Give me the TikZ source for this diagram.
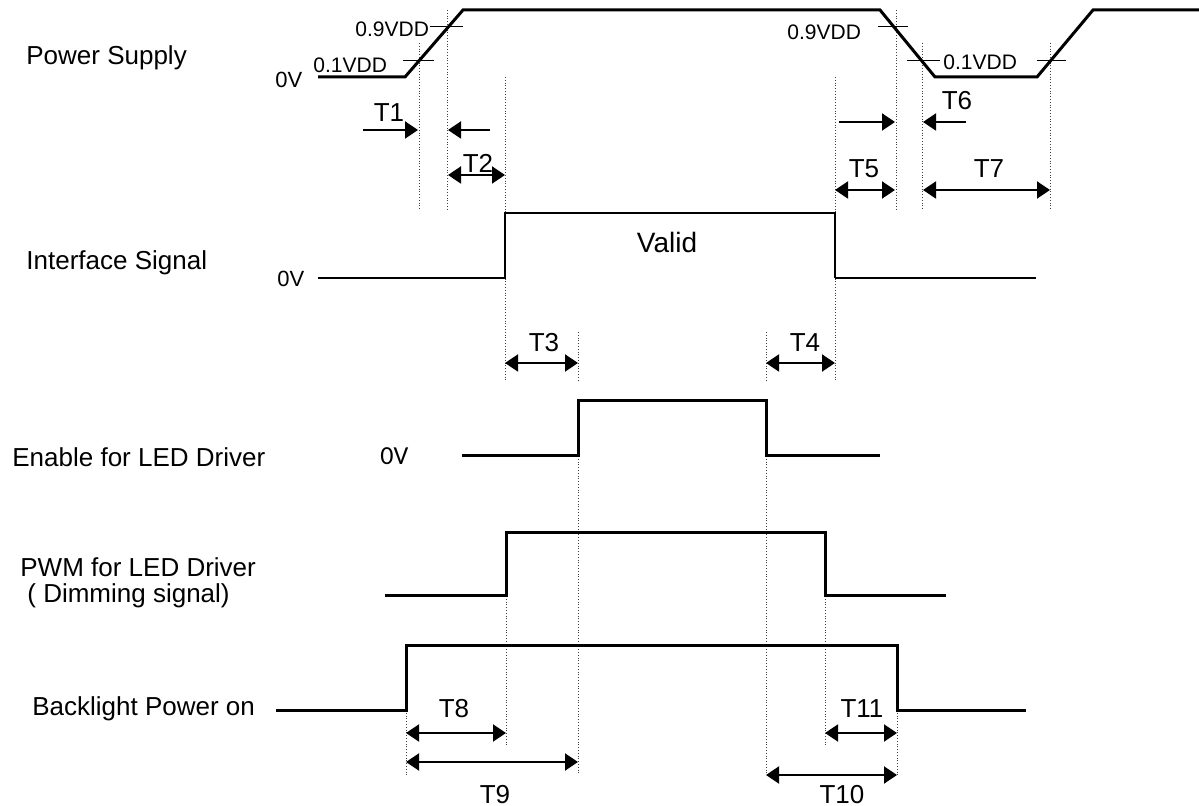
\documentclass[tikz,border=0pt]{standalone}
\usepackage{fontspec}
\setmainfont{Liberation Sans}
\newfontfamily\calibfont{Carlito}
\usetikzlibrary{arrows.meta}
\begin{document}
\begin{tikzpicture}[x=0.5pt,y=-0.5pt,
  sig/.style={line width=1.5pt, line join=miter},
  thinsig/.style={line width=0.7pt},
  tickmark/.style={line width=0.5pt},
  guide/.style={line width=0.4pt, densely dotted, black!75},
  dimarrow/.style={line width=1pt, {Triangle[length=6.5pt,width=8.5pt]}-{Triangle[length=6.5pt,width=8.5pt]}},
  onearrow/.style={line width=1pt, -{Triangle[length=6.5pt,width=8.5pt]}},
  lbl/.style={font=\fontsize{13}{15}\selectfont, anchor=base west, inner sep=0pt},
  zerov/.style={font=\fontsize{11}{13}\selectfont, anchor=base west, inner sep=0pt},
  vdd/.style={font=\fontsize{10.5}{12}\selectfont, anchor=base west, inner sep=0pt},
  tlab/.style={font=\fontsize{13}{15}\selectfont, anchor=base, inner sep=0pt},
]
\useasboundingbox (0,0) rectangle (1199,806);

% ---------- left labels ----------
\node[lbl] (lps) at (26,65) {Power Supply};
\node[lbl] (lis) at (26,270) {Interface Signal};
\node[lbl] (len) at (12,467) {Enable for LED Driver};
\node[lbl] (lpwm) at (20,577) {PWM for LED Driver};
\node[lbl] (lpwm2) at (27,603) {( Dimming signal)};
\node[lbl] (lbl) at (32,715) {Backlight Power on};

% ---------- guides ----------
\draw[guide] (419,43) -- (419,210);
\draw[guide] (447,10) -- (447,210);
\draw[guide] (505,77) -- (505,382);
\draw[guide] (835,77) -- (835,382);
\draw[guide] (896,10) -- (896,210);
\draw[guide] (922,43) -- (922,210);
\draw[guide] (1050,43) -- (1050,210);
\draw[guide] (578,332) -- (578,382);
\draw[guide] (766,332) -- (766,382);
\draw[guide] (578,456) -- (578,775);
\draw[guide] (766,456) -- (766,775);
\draw[guide] (506,596) -- (506,747);
\draw[guide] (825,596) -- (825,747);
\draw[guide] (406,710) -- (406,775);
\draw[guide] (897,710) -- (897,775);

% ---------- power supply ----------
\draw[sig] (318,77) -- (405,77) -- (463,10) -- (880,10) -- (935,77) -- (1037,77) -- (1093,10) -- (1199,10);
\draw[tickmark] (403,61) -- (434,61);
\draw[tickmark] (430,27) -- (463,27);
\draw[tickmark] (878,27) -- (908,27);
\draw[tickmark] (907,61) -- (940,61);
\draw[tickmark] (1037,61) -- (1066,61);
\node[zerov] (ps0v) at (275,88) {0V};
\node[vdd] (v01a) at (313,73) {0.1VDD};
\node[vdd] (v09a) at (355,37) {0.9VDD};
\node[vdd] (v09b) at (787,40) {0.9VDD};
\node[vdd] (v01b) at (943,70) {0.1VDD};

\draw[onearrow] (363,130) -- (418,130);
\draw[onearrow] (490,130) -- (448,130);
\node[tlab] (t1) at (389,122) {T1};
\draw[dimarrow] (448,175) -- (505,175);
\node[tlab] (t2) at (478,173) {T2};

\draw[onearrow] (839,122) -- (895,122);
\draw[onearrow] (966,122) -- (923,122);
\node[tlab] (t6) at (957,110) {T6};
\draw[dimarrow] (835,190) -- (895,190);
\node[tlab] (t5) at (864,178) {T5};
\draw[dimarrow] (923,190) -- (1050,190);
\node[tlab] (t7) at (989,178) {T7};

% ---------- interface signal ----------
\draw[line width=1.3pt, line join=miter] (318,278) -- (505,278) -- (505,213) -- (835,213) -- (835,278);
\draw[thinsig] (835,278) -- (1036,278);
\node[zerov] (is0v) at (277,287) {0V};
\node[tlab, font=\fontsize{14}{16}\selectfont] (valid) at (667,253) {Valid};
\draw[dimarrow] (505,363) -- (578,363);
\node[tlab] (t3) at (544,352) {T3};
\draw[dimarrow] (766,363) -- (835,363);
\node[tlab] (t4) at (805,352) {T4};

% ---------- enable ----------
\draw[sig] (462,456) -- (578,456) -- (578,401) -- (766,401) -- (766,456) -- (880,456);
\node[anchor=base west, inner sep=0pt, font=\calibfont\fontsize{13}{15}\selectfont] (en0v) at (380,465) {0V};

% ---------- PWM ----------
\draw[sig] (385,596) -- (506,596) -- (506,533) -- (825,533) -- (825,596) -- (946,596);

% ---------- backlight ----------
\draw[sig] (276,710) -- (406,710) -- (406,645) -- (897,645) -- (897,710) -- (1026,710);
\draw[dimarrow] (406,733) -- (506,733);
\node[tlab] (t8) at (454,717) {T8};
\draw[dimarrow] (406,762) -- (578,762);
\node[tlab] (t9) at (495,803) {T9};
\draw[dimarrow] (825,733) -- (897,733);
\node[tlab] (t11) at (862,717) {T11};
\draw[dimarrow] (766,775) -- (897,775);
\node[tlab] (t10) at (842,803) {T10};
\end{tikzpicture}
\end{document}
